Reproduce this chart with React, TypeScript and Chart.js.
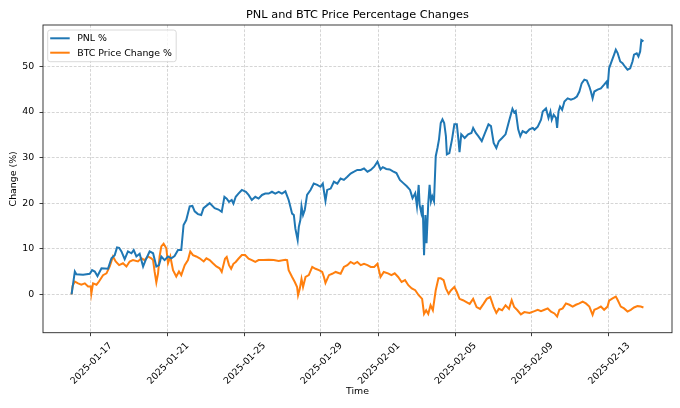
import React, { useEffect, useRef } from "react";
import { Chart, registerables } from "chart.js";

Chart.register(...registerables);

// x values are days since 2025-01-16 00:00
const pnlDays = [
  0, 0.17, 0.25, 0.6, 0.95, 1.07, 1.21, 1.35, 1.56, 1.9, 2.08, 2.25, 2.37, 2.48, 2.6, 2.77, 2.94, 3.12, 3.24, 3.38,
  3.55, 3.73, 3.86, 4.07, 4.25, 4.42, 4.56, 4.68, 4.85, 5.03, 5.2, 5.37, 5.55, 5.72, 5.84, 5.98, 6.16, 6.3, 6.42, 6.59,
  6.76, 6.88, 7.2, 7.46, 7.66, 7.83, 7.97, 8.09, 8.21, 8.35, 8.44, 8.56, 8.7, 8.88, 9.09, 9.23, 9.4, 9.58, 9.75, 9.93,
  10.1, 10.28, 10.45, 10.62, 10.8, 10.97, 11.15, 11.32, 11.41, 11.5, 11.59, 11.67, 11.79, 11.85, 11.93, 11.99, 12.07, 12.16, 12.28, 12.46,
  12.63, 12.81, 12.98, 13.1, 13.19, 13.24, 13.33, 13.51, 13.68, 13.86, 14.03, 14.2, 14.38, 14.55, 14.73, 14.9, 15.08, 15.25, 15.43, 15.6,
  15.78, 15.95, 16.11, 16.23, 16.41, 16.59, 16.76, 16.94, 17.12, 17.3, 17.48, 17.65, 17.78, 17.92, 18.01, 18.1, 18.15, 18.24, 18.31, 18.38,
  18.45, 18.51, 18.6, 18.67, 18.74, 18.81, 18.9, 18.99, 19.08, 19.16, 19.25, 19.34, 19.43, 19.52, 19.57, 19.7, 19.84, 19.96, 20.09, 20.18,
  20.23, 20.32, 20.5, 20.68, 20.85, 20.94, 21.08, 21.21, 21.39, 21.56, 21.74, 21.87, 22.01, 22.15, 22.28, 22.45, 22.63, 22.81, 22.99, 23.08,
  23.16, 23.29, 23.4, 23.52, 23.7, 23.88, 24.05, 24.14, 24.31, 24.48, 24.57, 24.74, 24.87, 24.97, 25.04, 25.14, 25.26, 25.32, 25.39, 25.47,
  25.58, 25.7, 25.87, 26.04, 26.22, 26.35, 26.48, 26.6, 26.74, 26.87, 27.0, 27.08, 27.17, 27.26, 27.43, 27.6, 27.77, 27.91, 27.95, 28.03,
  28.16, 28.29, 28.38, 28.47, 28.61, 28.73, 28.85, 28.99, 29.13, 29.25, 29.33, 29.47, 29.56, 29.65, 29.71, 29.82,
];
const pnlValues = [
  0, 5.0, 4.4, 4.3, 4.5, 5.3, 5.0, 4.0, 5.7, 5.6, 7.9, 8.6, 10.3, 10.2, 9.4, 7.7, 9.4, 9.0, 9.7, 8.3,
  8.9, 6.1, 7.5, 9.4, 9.0, 6.1, 6.4, 8.3, 7.5, 8.3, 7.9, 8.4, 9.7, 9.7, 15.2, 16.3, 19.3, 19.4, 18.2, 17.6,
  17.4, 18.9, 20.0, 18.9, 18.6, 18.1, 21.4, 21.0, 20.3, 20.7, 19.9, 21.4, 22.1, 22.9, 22.5, 21.8, 20.7, 21.4, 21.0, 21.8,
  22.1, 22.1, 22.5, 22.1, 22.5, 22.1, 22.6, 20.7, 19.2, 17.7, 17.4, 14.4, 11.9, 14.8, 16.3, 19.3, 17.4, 18.5, 21.8, 22.9,
  24.3, 24.0, 23.6, 24.3, 21.8, 20.5, 22.9, 23.2, 24.7, 24.3, 25.4, 25.1, 25.8, 26.5, 26.9, 27.3, 27.3, 27.6, 26.9, 27.3,
  28.0, 29.1, 27.4, 27.9, 27.5, 27.4, 27.0, 26.6, 25.1, 24.4, 23.7, 22.9, 21.1, 22.2, 19.3, 24.0, 19.6, 17.8, 19.6, 8.6,
  17.4, 11.2, 20.0, 24.0, 20.4, 21.5, 20.4, 30.3, 32.1, 34.0, 37.6, 38.4, 37.6, 34.7, 30.7, 31.0, 34.0, 37.3, 37.3, 33.6,
  31.2, 35.1, 34.3, 35.1, 35.4, 36.5, 35.4, 34.7, 33.6, 35.4, 37.3, 36.9, 33.2, 32.1, 33.6, 34.3, 35.1, 38.0, 40.7, 39.9,
  40.2, 36.2, 34.7, 35.8, 35.4, 36.2, 36.5, 36.1, 36.8, 38.3, 40.1, 40.8, 38.7, 40.1, 38.3, 39.4, 38.7, 36.5, 40.1, 41.2,
  40.5, 42.3, 43.0, 42.7, 43.0, 43.4, 44.5, 46.3, 47.1, 46.9, 45.6, 44.5, 43.0, 44.5, 44.9, 45.2, 46.0, 46.7, 45.2, 49.6,
  51.1, 52.6, 53.7, 53.0, 51.1, 50.7, 50.0, 49.3, 49.6, 51.1, 52.6, 52.9, 52.2, 53.3, 55.8, 55.5,
];

const btcDays = [
  0, 0.05, 0.17, 0.34, 0.51, 0.69, 0.86, 1.0, 1.03, 1.12, 1.3, 1.43, 1.64, 1.82, 1.99, 2.16, 2.3, 2.48, 2.68, 2.86,
  3.03, 3.2, 3.46, 3.64, 3.81, 3.98, 4.16, 4.25, 4.33, 4.42, 4.51, 4.59, 4.68, 4.8, 4.94, 5.03, 5.15, 5.29, 5.46, 5.6,
  5.72, 5.9, 6.07, 6.19, 6.33, 6.5, 6.68, 6.89, 7.03, 7.2, 7.37, 7.55, 7.72, 7.83, 8.0, 8.09, 8.21, 8.32, 8.44, 8.56,
  8.7, 8.88, 9.05, 9.23, 9.4, 9.58, 9.75, 10.01, 10.28, 10.54, 10.8, 11.15, 11.24, 11.32, 11.5, 11.64, 11.76, 11.81, 11.9, 11.99,
  12.07, 12.2, 12.37, 12.55, 12.72, 12.9, 13.07, 13.16, 13.24, 13.42, 13.59, 13.77, 14.03, 14.2, 14.38, 14.55, 14.73, 14.9, 15.08, 15.25,
  15.43, 15.6, 15.78, 15.95, 16.11, 16.28, 16.5, 16.68, 16.85, 17.03, 17.21, 17.39, 17.56, 17.74, 17.92, 18.1, 18.28, 18.38, 18.49, 18.6,
  18.72, 18.84, 18.99, 19.13, 19.25, 19.4, 19.52, 19.66, 19.79, 19.96, 20.09, 20.23, 20.41, 20.59, 20.76, 20.94, 21.12, 21.3, 21.48, 21.65,
  21.83, 22.01, 22.15, 22.28, 22.45, 22.63, 22.81, 22.95, 23.08, 23.25, 23.43, 23.61, 23.88, 24.14, 24.31, 24.48, 24.66, 24.83, 25.0, 25.18,
  25.32, 25.44, 25.61, 25.78, 25.96, 26.13, 26.3, 26.48, 26.65, 26.82, 27.0, 27.17, 27.26, 27.43, 27.6, 27.77, 27.95, 28.03, 28.21, 28.38,
  28.47, 28.64, 28.81, 28.99, 29.16, 29.33, 29.51, 29.68, 29.82,
];
const btcValues = [
  0, 1.8, 2.8, 2.4, 2.1, 2.4, 1.7, 1.7, 0.1, 2.4, 2.1, 2.8, 4.2, 4.6, 6.1, 8.3, 7.2, 6.4, 6.8, 6.1,
  7.2, 7.5, 7.2, 7.9, 7.5, 8.3, 7.9, 7.5, 5.0, 2.6, 4.6, 8.3, 10.5, 11.1, 10.1, 6.8, 8.3, 5.3, 3.9, 5.0,
  4.2, 6.4, 7.5, 9.4, 8.6, 8.3, 7.9, 7.2, 7.9, 7.5, 6.8, 6.1, 5.7, 4.9, 7.8, 8.2, 6.4, 5.6, 6.7, 7.1,
  7.8, 8.6, 8.6, 7.8, 7.5, 7.1, 7.5, 7.5, 7.6, 7.5, 7.3, 7.6, 7.5, 5.3, 3.8, 2.7, 1.6, -0.2, 1.2, 3.4,
  1.6, 3.8, 4.2, 6.0, 5.6, 5.3, 4.9, 3.8, 2.5, 4.2, 4.5, 4.9, 4.5, 6.0, 6.4, 7.1, 6.7, 7.1, 6.4, 6.7,
  6.4, 6.0, 6.0, 6.7, 3.8, 4.9, 4.6, 4.2, 4.6, 3.8, 2.7, 3.1, 2.0, 1.3, 0.9, -0.2, -1.0, -4.3, -3.5, -4.3,
  -2.4, -3.5, 0.9, 3.5, 3.5, 3.1, 1.3, 0.1, 0.9, 1.6, 0.5, -1.0, -1.3, -1.7, -2.1, -1.0, -2.8, -3.2, -2.1, -1.0,
  -0.6, -2.8, -4.1, -3.2, -3.5, -2.4, -3.2, -1.3, -2.8, -3.5, -4.4, -3.9, -4.1, -3.7, -3.4, -3.7, -3.4, -3.1, -3.8, -4.2,
  -4.9, -3.4, -3.1, -2.0, -2.3, -2.7, -2.3, -2.0, -1.6, -2.0, -2.7, -4.5, -3.4, -3.1, -2.7, -3.4, -2.7, -1.4, -0.9, -0.5,
  -1.2, -2.7, -3.1, -3.8, -3.4, -2.9, -2.6, -2.7, -2.9,
];

const xTickDays = [1, 5, 9, 13, 16, 20, 24, 28];
const xTickLabels = [
  "2025-01-17", "2025-01-21", "2025-01-25", "2025-01-29",
  "2025-02-01", "2025-02-05", "2025-02-09", "2025-02-13",
];
const yTickValues = [0, 10, 20, 30, 40, 50];
const seriesLabels = ["PNL %", "BTC Price Change %"];
const seriesColors = ["#1f77b4", "#ff7f0e"];
const titleText = "PNL and BTC Price Percentage Changes";
const xAxisTitle = "Time";
const yAxisTitle = "Change (%)";

const FONT = "'DejaVu Sans', 'Liberation Sans', sans-serif";

const decorPlugin = {
  id: "decor",
  afterDraw(chart: any) {
    const { ctx, chartArea } = chart;
    const { left, right, top, bottom } = chartArea;
    ctx.save();
    // spines
    ctx.strokeStyle = "#262626";
    ctx.lineWidth = 0.9;
    ctx.setLineDash([]);
    ctx.strokeRect(left, top, right - left, bottom - top);
    // title
    ctx.fillStyle = "#000";
    ctx.font = `11.3px ${FONT}`;
    ctx.textAlign = "center";
    ctx.textBaseline = "middle";
    ctx.fillText(titleText, (left + right) / 2, 15);
    // legend
    const bx = left + 4.7, by = top + 5, bw = 128.5, bh = 31.7, r = 2.5;
    ctx.beginPath();
    ctx.moveTo(bx + r, by);
    ctx.lineTo(bx + bw - r, by);
    ctx.quadraticCurveTo(bx + bw, by, bx + bw, by + r);
    ctx.lineTo(bx + bw, by + bh - r);
    ctx.quadraticCurveTo(bx + bw, by + bh, bx + bw - r, by + bh);
    ctx.lineTo(bx + r, by + bh);
    ctx.quadraticCurveTo(bx, by + bh, bx, by + bh - r);
    ctx.lineTo(bx, by + r);
    ctx.quadraticCurveTo(bx, by, bx + r, by);
    ctx.closePath();
    ctx.fillStyle = "rgba(255,255,255,0.8)";
    ctx.fill();
    ctx.strokeStyle = "#d0d0d0";
    ctx.lineWidth = 0.8;
    ctx.stroke();
    ctx.font = `9.4px ${FONT}`;
    ctx.textAlign = "left";
    ctx.textBaseline = "middle";
    seriesLabels.forEach((lab, i) => {
      const y = by + 8.3 + i * 14.4;
      ctx.strokeStyle = seriesColors[i];
      ctx.lineWidth = 2;
      ctx.beginPath();
      ctx.moveTo(bx + 2.5, y);
      ctx.lineTo(bx + 22, y);
      ctx.stroke();
      ctx.fillStyle = "#000";
      ctx.fillText(lab, bx + 29.5, y + 0.5);
    });
    ctx.restore();
  },
};

export default function App() {
  const ref = useRef<HTMLCanvasElement | null>(null);

  useEffect(() => {
    if (!ref.current) return;
    const gridColor = "rgba(176,176,176,0.7)";
    const chart = new Chart(ref.current, {
      type: "line",
      data: {
        datasets: [
          {
            label: seriesLabels[0],
            data: pnlDays.map((d, i) => ({ x: d, y: pnlValues[i] })),
            borderColor: seriesColors[0],
            backgroundColor: seriesColors[0],
            borderWidth: 2,
            pointRadius: 0,
            tension: 0,
          },
          {
            label: seriesLabels[1],
            data: btcDays.map((d, i) => ({ x: d, y: btcValues[i] })),
            borderColor: seriesColors[1],
            backgroundColor: seriesColors[1],
            borderWidth: 2,
            pointRadius: 0,
            tension: 0,
          },
        ],
      },
      options: {
        animation: false,
        responsive: false,
        devicePixelRatio: 1,
        layout: { padding: { top: 25, right: 8, left: 0, bottom: 0 } },
        plugins: {
          legend: { display: false },
          title: { display: false },
          tooltip: { enabled: false },
        },
        scales: {
          x: {
            type: "linear",
            min: -1.49,
            max: 31.31,
            afterBuildTicks: (s: any) => {
              s.ticks = xTickDays.map((v) => ({ value: v }));
            },
            afterFit: (s: any) => {
              s.height = 75.3;
              s.paddingLeft = 0;
              s.paddingRight = 0;
            },
            grid: {
              color: gridColor,
              lineWidth: 0.75,
              drawTicks: true,
              tickLength: 3.5,
              tickColor: "#262626",
              tickWidth: 0.9,
            },
            border: { display: false, dash: [2.8, 1.6] },
            ticks: {
              autoSkip: false,
              maxRotation: 45,
              minRotation: 45,
              padding: 4,
              labelOffset: 20,
              color: "#000",
              font: { family: FONT, size: 9.4 },
              callback: (_v: any, i: number) => xTickLabels[i],
            },
            title: {
              display: true,
              text: xAxisTitle,
              color: "#000",
              font: { family: FONT, size: 9.4 },
              padding: { top: 0, bottom: 10.4 },
            },
          },
          y: {
            type: "linear",
            min: -8.43,
            max: 59.1,
            afterBuildTicks: (s: any) => {
              s.ticks = yTickValues.map((v) => ({ value: v }));
            },
            afterFit: (s: any) => {
              s.width = 43;
              s.paddingTop = 0;
              s.paddingBottom = 0;
            },
            grid: {
              color: gridColor,
              lineWidth: 0.75,
              drawTicks: true,
              tickLength: 3.5,
              tickColor: "#262626",
              tickWidth: 0.9,
            },
            border: { display: false, dash: [2.8, 1.6] },
            ticks: {
              padding: 5.2,
              color: "#000",
              font: { family: FONT, size: 9.4 },
              callback: (v: any) => String(v),
            },
            title: {
              display: true,
              text: yAxisTitle,
              color: "#000",
              font: { family: FONT, size: 9.4 },
              padding: { top: 8.4, bottom: 0 },
            },
          },
        },
      },
      plugins: [decorPlugin],
    } as any);
    return () => chart.destroy();
  }, []);

  return (
    <div style={{ position: "fixed", left: 0, top: 0, width: 680, height: 408, background: "#fff" }}>
      <canvas ref={ref} width={680} height={408} style={{ display: "block", width: 680, height: 408 }} />
    </div>
  );
}
